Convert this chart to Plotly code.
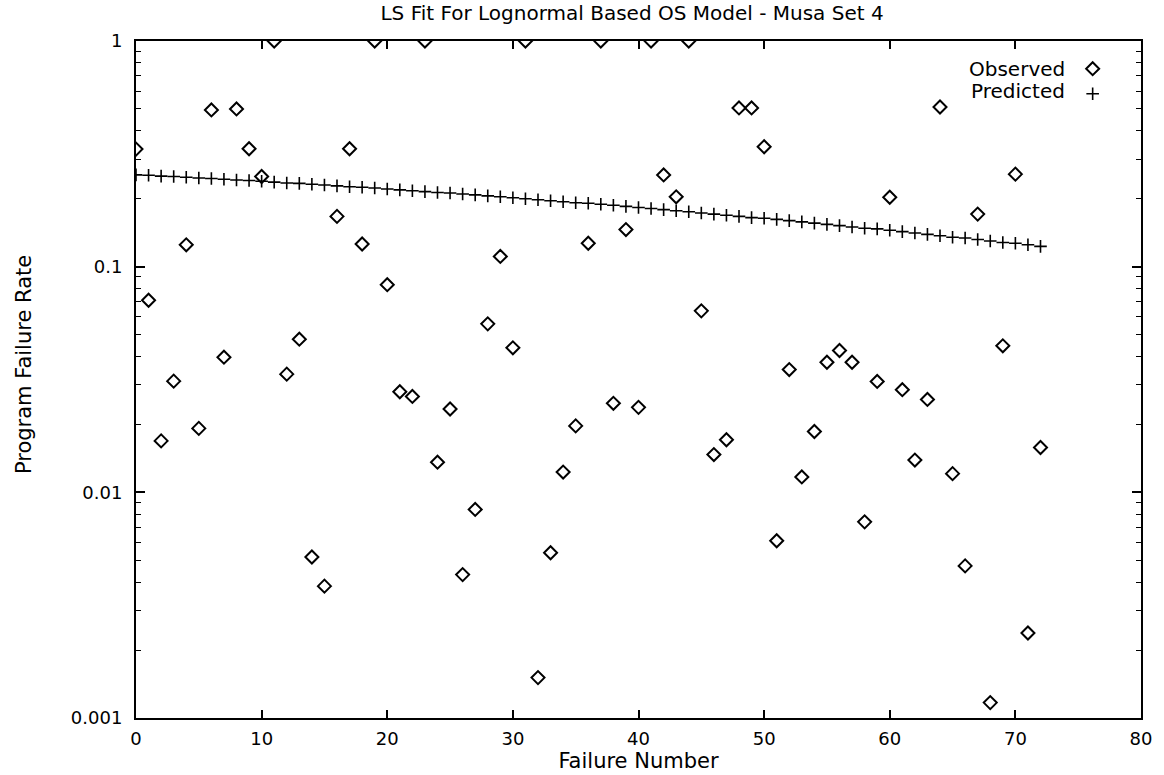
import plotly.graph_objects as go

failure_number = list(range(73))

observed = [
    0.332, 0.071, 0.0169, 0.0311, 0.125, 0.0192, 0.495, 0.0397, 0.5, 0.333,
    0.251, 1.0, 0.0334, 0.0477, 0.00517, 0.00384, 0.167, 0.333, 0.126, 1.0,
    0.0832, 0.0279, 0.0266, 1.0, 0.0136, 0.0234, 0.00432, 0.0084, 0.0558, 0.111,
    0.0437, 1.0, 0.00151, 0.0054, 0.0123, 0.0197, 0.127, 1.0, 0.0248, 0.146,
    0.0238, 1.0, 0.255, 0.204, 1.0, 0.0637, 0.0147, 0.0171, 0.505, 0.505,
    0.340, 0.0061, 0.035, 0.0117, 0.0186, 0.0377, 0.0425, 0.0377, 0.0074, 0.031,
    0.203, 0.0285, 0.0139, 0.0258, 0.51, 0.0121, 0.00472, 0.171, 0.00117, 0.0446,
    0.257, 0.00238, 0.0158,
]

predicted = [
    0.255, 0.254, 0.252, 0.251, 0.249, 0.247, 0.246, 0.244, 0.242, 0.241,
    0.239, 0.237, 0.235, 0.234, 0.232, 0.230, 0.228, 0.226, 0.225, 0.223,
    0.221, 0.219, 0.217, 0.215, 0.213, 0.212, 0.210, 0.208, 0.206, 0.204,
    0.202, 0.200, 0.198, 0.196, 0.194, 0.192, 0.191, 0.189, 0.187, 0.185,
    0.183, 0.181, 0.179, 0.177, 0.175, 0.173, 0.171, 0.169, 0.167, 0.165,
    0.164, 0.162, 0.160, 0.158, 0.156, 0.154, 0.152, 0.150, 0.148, 0.147,
    0.145, 0.143, 0.141, 0.139, 0.137, 0.135, 0.134, 0.132, 0.130, 0.128,
    0.127, 0.125, 0.123,
]

x_ticks = [0, 10, 20, 30, 40, 50, 60, 70, 80]
y_ticks = [0.001, 0.01, 0.1, 1]
y_tick_text = ["0.001", "0.01", "0.1", "1"]
y_minor = [m * 10.0 ** e for e in (-3, -2, -1) for m in range(2, 10)]

FONT = "DejaVu Sans, Liberation Sans, Arial, sans-serif"

fig = go.Figure()
fig.add_trace(go.Scatter(
    x=failure_number, y=observed, mode="markers", name=" ",
    marker=dict(symbol="diamond-open", size=10, color="black",
                line=dict(width=2, color="black")),
))
fig.add_trace(go.Scatter(
    x=failure_number, y=predicted, mode="markers", name=" ",
    marker=dict(symbol="cross-thin-open", size=9, color="black",
                line=dict(width=1.6, color="black")),
))

fig.update_layout(
    width=1164, height=775,
    margin=dict(l=136, r=18, t=41, b=56),
    paper_bgcolor="white", plot_bgcolor="white",
    font=dict(family=FONT, size=18, color="black"),
    title=dict(text="LS Fit For Lognormal Based OS Model - Musa Set 4",
               x=0.543, xanchor="center", y=0.983, yanchor="middle",
               font=dict(size=20, family=FONT, color="black")),
    showlegend=True,
    legend=dict(x=0.932, xanchor="left", y=0.985, yanchor="top",
                bgcolor="rgba(0,0,0,0)", borderwidth=0,
                font=dict(size=17, family=FONT), tracegroupgap=0,
                itemwidth=30),
    annotations=[
        dict(text="Observed", xref="paper", yref="paper", x=0.926, y=0.958,
             xanchor="right", yanchor="middle", showarrow=False,
             font=dict(size=20, family=FONT)),
        dict(text="Predicted", xref="paper", yref="paper", x=0.926, y=0.926,
             xanchor="right", yanchor="middle", showarrow=False,
             font=dict(size=20, family=FONT)),
        dict(text="Program Failure Rate", xref="paper", yref="paper",
             x=-0.112, y=0.522, xanchor="center", yanchor="middle",
             textangle=-90, showarrow=False,
             font=dict(size=21, family=FONT)),
    ],
)

fig.update_xaxes(
    range=[0, 80], tickvals=x_ticks, ticks="inside", ticklen=8, tickwidth=1.5,
    tickcolor="black", showline=True, linecolor="black", linewidth=2,
    mirror="ticks", showgrid=False, zeroline=False, ticklabelstandoff=3,
    tickfont=dict(size=18, family=FONT),
    title=dict(text="Failure Number", standoff=0, font=dict(size=21, family=FONT)),
)
fig.update_yaxes(
    type="log", range=[-3, 0], tickvals=y_ticks, ticktext=y_tick_text,
    ticks="inside", ticklen=9, tickwidth=1.5, tickcolor="black",
    minor=dict(tickvals=y_minor, ticks="inside", ticklen=5, tickwidth=1.2,
               tickcolor="black", showgrid=False),
    showline=True, linecolor="black", linewidth=2, mirror="ticks",
    showgrid=False, zeroline=False, ticklabelstandoff=8,
    tickfont=dict(size=18, family=FONT),
)

fig.write_html("out.html")
